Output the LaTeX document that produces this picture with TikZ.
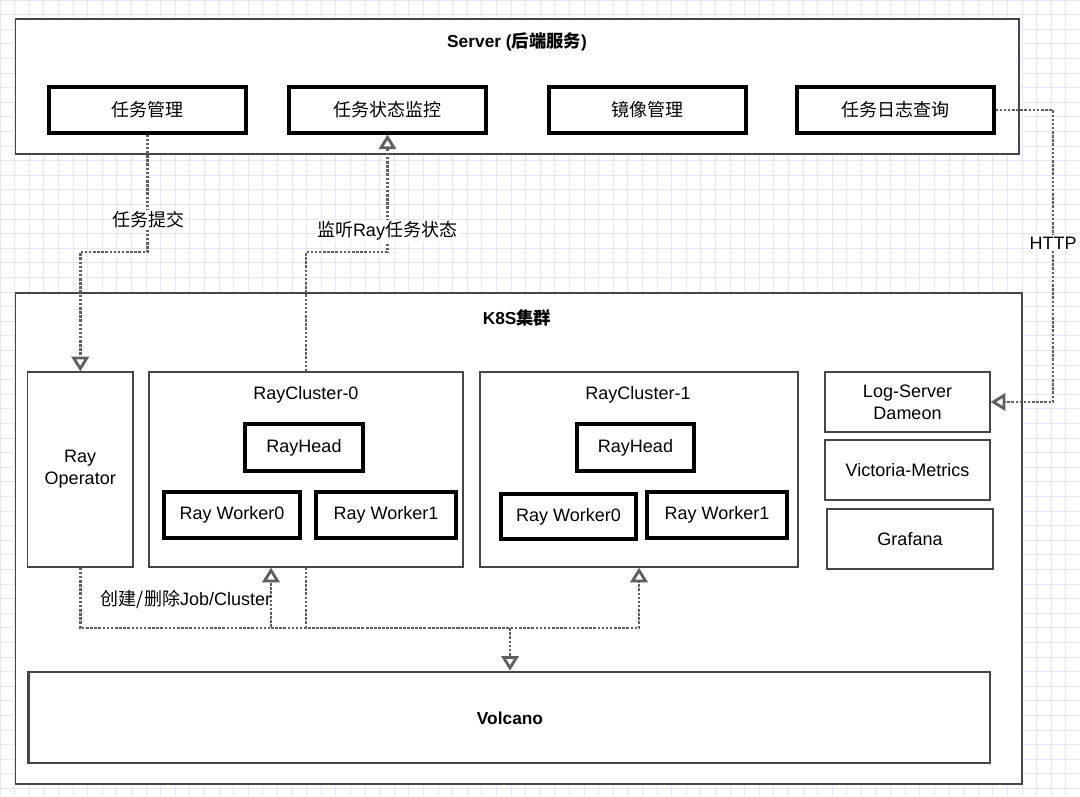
\documentclass[tikz,border=0pt]{standalone}
\usepackage{fontspec}
\setmainfont{Liberation Sans}
\newfontfamily\cjk{Noto Sans CJK SC}
\usetikzlibrary{arrows.meta,fit,calc}
\definecolor{gridc}{RGB}{230,230,250}
\definecolor{conncol}{RGB}{95,95,95}
\definecolor{bordc}{RGB}{70,70,70}
\begin{document}
\begin{tikzpicture}[x=0.75pt,y=-0.75pt,
  font=\fontsize{13.5}{16.5}\selectfont,
  outerbox/.style={draw=bordc,line width=1pt,fill=white,inner sep=0pt},
  thickbox/.style={draw=black,line width=2.3pt,fill=white,inner sep=0pt},
  thinbox/.style={draw=bordc,line width=1pt,fill=white,inner sep=0pt},
  volbox/.style={draw=bordc,line width=2pt,fill=white,inner sep=0pt},
  conn/.style={draw=conncol,line width=2.1pt,dash pattern=on 1.9pt off 1.2pt,
    -{Triangle[length=11pt,width=13pt,fill=white,line width=2.1pt]}},
  ttl/.style={font=\fontsize{13}{16}\selectfont\bfseries},
  txt/.style={align=center,inner sep=0pt},
  lbl/.style={fill=white,inner sep=1pt}]
\useasboundingbox (0,0) rectangle (1080,796);
\fill[white] (0,0) rectangle (1080,796);
\draw[gridc,line width=0.6pt,step=10.95pt] (0,0) grid (1080,796);

% Server
\node[outerbox,fit={(15.5,19) (1019,154)}] (server) {};
\node[ttl] (servertitle) at (517,42) {Server ({\cjk 后端服务})};
\node[thickbox,fit={(49,87) (246,133)}] (mgmt) {};
\node[txt] (mgmtt) at (mgmt.center) {{\cjk 任务管理}};
\node[thickbox,fit={(289,87) (486,133)}] (mon) {};
\node[txt] (mont) at (mon.center) {{\cjk 任务状态监控}};
\node[thickbox,fit={(549,87) (746,133)}] (img) {};
\node[txt] (imgt) at (img.center) {{\cjk 镜像管理}};
\node[thickbox,fit={(797,87) (994,133)}] (logq) {};
\node[txt] (logqt) at (logq.center) {{\cjk 任务日志查询}};

% K8S
\node[outerbox,fit={(15.5,293) (1022,784)}] (k8s) {};
\node[ttl] (k8stitle) at (517,318) {K8S{\cjk 集群}};
\node[thinbox,fit={(27.5,372) (133,567)}] (op) {};
\node[txt] (opt) at (op.center) {Ray\\Operator};

\node[thinbox,fit={(149,372) (463,567)}] (rc0) {};
\node (rc0t) at (306,395) {RayCluster-0};
\node[thickbox,fit={(245,424) (363,471)}] (rh0) {};
\node[txt] (rh0t) at (rh0.center) {RayHead};
\node[thickbox,fit={(164,492) (300,538)}] (w00) {};
\node[txt] (w00t) at (w00.center) {Ray Worker0};
\node[thickbox,fit={(316,492) (456,538)}] (w01) {};
\node[txt] (w01t) at (w01.center) {Ray Worker1};

\node[thinbox,fit={(480,372) (798,567)}] (rc1) {};
\node (rc1t) at (638,395) {RayCluster-1};
\node[thickbox,fit={(577,424) (694,471)}] (rh1) {};
\node[txt] (rh1t) at (rh1.center) {RayHead};
\node[thickbox,fit={(501,494) (636,539)}] (w10) {};
\node[txt] (w10t) at (w10.center) {Ray Worker0};
\node[thickbox,fit={(647,492) (787,538)}] (w11) {};
\node[txt] (w11t) at (w11.center) {Ray Worker1};

\node[thinbox,fit={(825,372) (990,432)}] (logsrv) {};
\node[txt] (logsrvt) at (logsrv.center) {Log-Server\\Dameon};
\node[thinbox,fit={(825,440) (990,500)}] (vm) {};
\node[txt] (vmt) at (vm.center) {Victoria-Metrics};
\node[thinbox,fit={(827,509) (993,569)}] (graf) {};
\node[txt] (graft) at (graf.center) {Grafana};

\node[volbox,fit={(28.6,672) (990,763)}] (vol) {};
\node[ttl] (voltitle) at (510,718) {Volcano};

% connectors
\coordinate (ya) at (0,252);
\coordinate (yb) at (0,628);
\coordinate (hx) at (1053,0);
\coordinate (ax) at (271,0);
\coordinate (vx) at (510,0);

\draw[conn] (mgmt.south) -- (mgmt.south |- ya) -- (op.north |- ya) -- (op.north);
\node[lbl] (l1) at (148,220) {{\cjk 任务提交}};

\draw[conn] (rc0.north) -- (rc0.north |- ya) -- (mon.south |- ya) -- (mon.south);
\node[lbl] (l2) at (387,231) {{\cjk 监听}Ray{\cjk 任务状态}};

\draw[conn] (logq.east) -- (logq.east -| hx) -- (hx |- logsrv.east) -- (logsrv.east);
\node[lbl] (l3) at (1053,243) {HTTP};

\draw[conn] (op.south) -- (op.south |- yb) -- (ax |- yb) -- (ax |- rc0.south);
\draw[conn] (ax |- yb) -- (rc1.south |- yb) -- (rc1.south);
\draw[conn] (rc0.south) -- (rc0.south |- yb) -- (vx |- yb) -- (vx |- vol.north);
\node (l4) at (186,599) {{\cjk 创建/删除}Job/Cluster};
\end{tikzpicture}
\end{document}
